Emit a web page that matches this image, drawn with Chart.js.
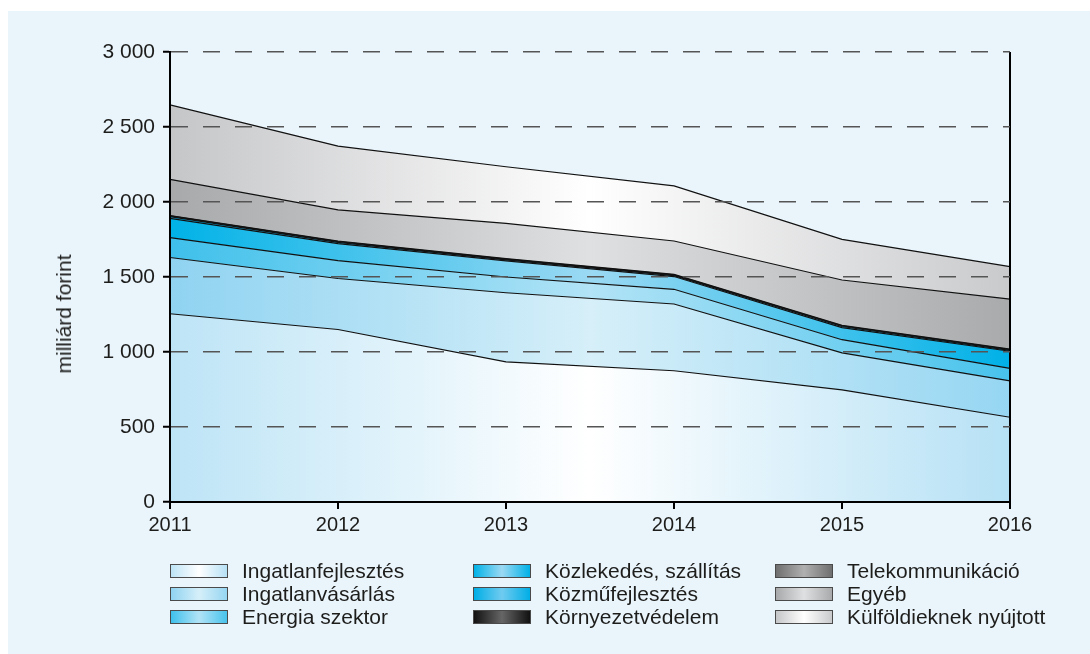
<!DOCTYPE html>
<html>
<head>
<meta charset="utf-8">
<script src="https://cdn.jsdelivr.net/npm/chart.js@4/dist/chart.umd.min.js"></script>
<style>
  html, body { margin: 0; padding: 0; background: #fff; }
  body { width: 1090px; height: 654px; position: relative; overflow: hidden; font-family: "Liberation Sans", Arial, sans-serif; }
  #panel { position: absolute; left: 8px; top: 11px; right: 0; bottom: 0; background: #e9f4fb; }
  #chart { position: absolute; left: 0; top: 0; }
  #ytitle { position: absolute; left: 64px; top: 314px; transform: translate(-50%, -50%) rotate(-90deg); font-size: 21px; color: #1d1d1b; white-space: nowrap; }
  .item { position: absolute; height: 23px; font-size: 21px; color: #1d1d1b; white-space: nowrap; }
  .sw { position: absolute; left: 0; top: 2px; width: 56px; height: 12px; border: 1px solid #4a4a4a; }
  .lbl { position: absolute; left: 72px; top: -3px; line-height: 23px; }
</style>
</head>
<body>
<div id="panel"></div>
<canvas id="chart" width="1090" height="654"></canvas>
<div id="ytitle">milliárd forint</div>
<div id="legend"></div>
<script>
const years = ['2011', '2012', '2013', '2014', '2015', '2016']
const seriesNames = [
  'Ingatlanfejlesztés', 'Ingatlanvásárlás', 'Energia szektor',
  'Közlekedés, szállítás', 'Közműfejlesztés', 'Környezetvédelem',
  'Telekommunikáció', 'Egyéb', 'Külföldieknek nyújtott'
]
const ingatlanfejlesztes = [1255, 1150, 934, 875, 747, 565]
const ingatlanvasarlas = [375, 340, 461, 445, 247, 242]
const energia = [132, 119, 105, 98, 88, 84]
const kozlekedes = [129, 113, 107, 85, 81, 114]
const kozmu = [11, 9, 7, 6, 7, 6]
const kornyezet = [5, 5, 5, 5, 5, 5]
const telekom = [3, 3, 3, 3, 3, 3]
const egyeb = [241, 208, 236, 223, 302, 334]
const kulfoldi = [496, 426, 377, 367, 271, 216]
const yTicks = [0, 500, 1000, 1500, 2000, 2500, 3000]

const seriesValues = [ingatlanfejlesztes, ingatlanvasarlas, energia, kozlekedes, kozmu, kornyezet, telekom, egyeb, kulfoldi]

// gradient stops: left edge, middle, right edge
const palette = [
  ['#bde4f6', '#ffffff', '#b6e1f5'],
  ['#8fd3f1', '#d6eff9', '#96d6f2'],
  ['#3ec0eb', '#b2e3f6', '#48c3ec'],
  ['#00b2e7', '#9bd9f3', '#00b1e7'],
  ['#00aee6', '#70cbef', '#00aee6'],
  ['#111111', '#666666', '#111111'],
  ['#6f6f6f', '#b0b0b0', '#6f6f6f'],
  ['#a8a9ab', '#dfe0e1', '#a9aaac'],
  ['#c5c6c8', '#ffffff', '#c9cacc']
]

const fmt = v => v >= 1000 ? Math.floor(v / 1000) + ' ' + String(v % 1000).padStart(3, '0') : String(v)

const gradCache = {}
function areaFill(ctx) {
  const i = ctx.datasetIndex
  const area = ctx.chart.chartArea
  if (!area) return palette[i][0]
  const key = i + ':' + area.left + ':' + area.right
  if (!gradCache[key]) {
    const g = ctx.chart.ctx.createLinearGradient(area.left, 0, area.right, 0)
    g.addColorStop(0, palette[i][0])
    g.addColorStop(0.5, palette[i][1])
    g.addColorStop(1, palette[i][2])
    gradCache[key] = g
  }
  return gradCache[key]
}

const datasets = seriesValues.map((vals, i) => ({
  label: seriesNames[i],
  data: vals,
  fill: i === 0 ? 'origin' : '-1',
  backgroundColor: areaFill,
  borderColor: '#111',
  borderWidth: 1.2,
  pointRadius: 0,
  tension: 0
}))

Chart.defaults.font.family = '"Liberation Sans", Arial, sans-serif'
Chart.defaults.color = '#1d1d1b'

new Chart(document.getElementById('chart'), {
  type: 'line',
  data: { labels: years, datasets },
  options: {
    responsive: false,
    animation: false,
    layout: { padding: { left: 0, right: 80, top: 52, bottom: 112 } },
    plugins: { legend: { display: false }, tooltip: { enabled: false } },
    scales: {
      x: {
        type: 'category',
        offset: false,
        afterFit: s => { s.height = 40 },
        grid: {
          z: 1,
          drawOnChartArea: true,
          color: c => c.index === years.length - 1 ? '#000' : 'rgba(0,0,0,0)',
          lineWidth: 2,
          tickColor: '#000',
          tickWidth: 2,
          tickLength: 7
        },
        border: { display: true, color: '#000', width: 2, z: 1 },
        ticks: { font: { size: 20 }, padding: 4, maxRotation: 0 }
      },
      y: {
        stacked: true,
        min: 0,
        max: 3000,
        afterFit: s => { s.width = 170 },
        afterBuildTicks: s => { s.ticks = yTicks.map(v => ({ value: v })) },
        grid: {
          z: 1,
          color: c => c.tick && c.tick.value === 0 ? 'rgba(0,0,0,0)' : '#555',
          lineWidth: 1.5,
          tickColor: '#000',
          tickWidth: 2,
          tickLength: 7,
          tickBorderDash: []
        },
        border: { display: true, color: '#000', width: 2, z: 1, dash: [17, 15] },
        ticks: { font: { size: 21 }, padding: 8, callback: v => fmt(v) }
      }
    }
  }
})

// legend in three columns, filled column by column
const legend = document.getElementById('legend')
const colX = [170, 473, 775]
const rowY = [562, 585, 608]
seriesNames.forEach((name, k) => {
  const col = Math.floor(k / 3), row = k % 3
  const c = palette[k]
  const item = document.createElement('div')
  item.className = 'item'
  item.style.left = colX[col] + 'px'
  item.style.top = rowY[row] + 'px'
  const sw = document.createElement('div')
  sw.className = 'sw'
  sw.style.background = `linear-gradient(to right, ${c[0]} 0%, ${c[1]} 50%, ${c[2]} 100%)`
  const lbl = document.createElement('div')
  lbl.className = 'lbl'
  lbl.textContent = name
  item.appendChild(sw)
  item.appendChild(lbl)
  legend.appendChild(item)
})
</script>
</body>
</html>
